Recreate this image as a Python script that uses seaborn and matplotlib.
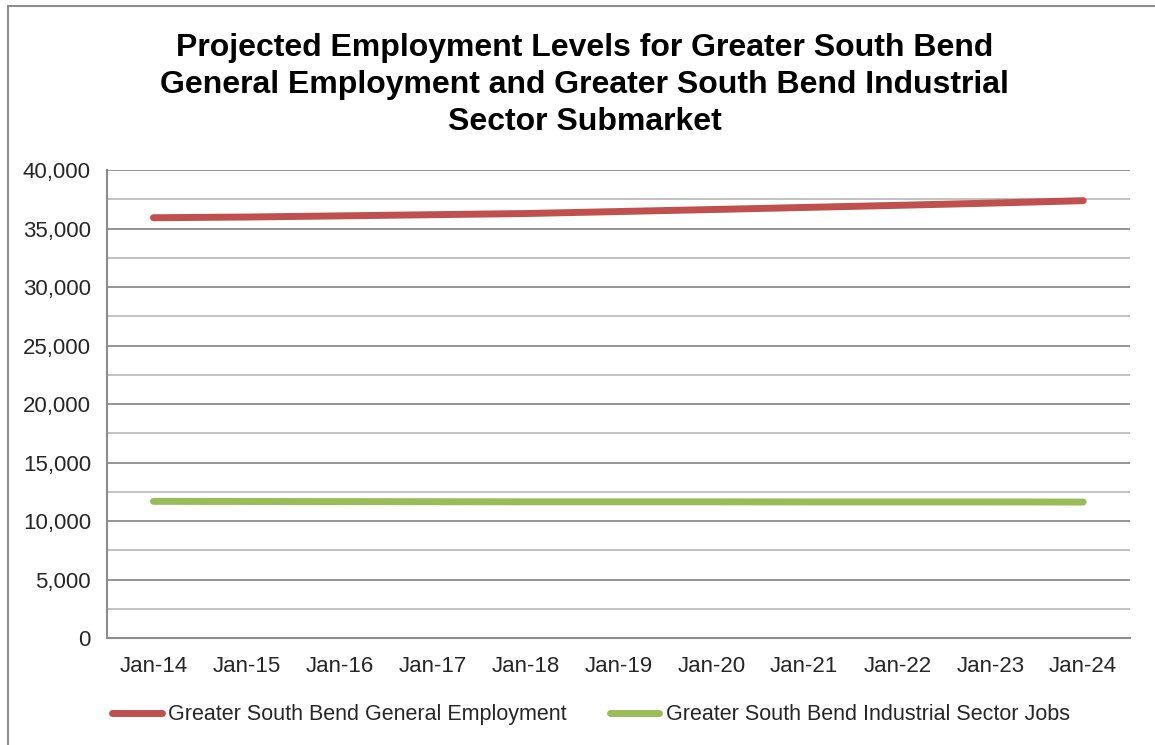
import numpy as np
import pandas as pd
import seaborn as sns
import matplotlib.pyplot as plt
from matplotlib.ticker import MultipleLocator, FuncFormatter
from matplotlib.patches import Rectangle

periods = ["Jan-14", "Jan-15", "Jan-16", "Jan-17", "Jan-18", "Jan-19",
           "Jan-20", "Jan-21", "Jan-22", "Jan-23", "Jan-24"]
general_emp = [35920, 35980, 36080, 36180, 36280, 36450,
               36620, 36800, 36980, 37170, 37380]
industrial_jobs = [11680, 11670, 11660, 11650, 11640, 11640,
                   11640, 11630, 11630, 11630, 11620]
series_names = ["Greater South Bend General Employment",
                "Greater South Bend Industrial Sector Jobs"]
title = ("Projected Employment Levels for Greater South Bend\n"
         "General Employment and Greater South Bend Industrial\n"
         "Sector Submarket")

df = pd.DataFrame({"period": periods,
                   series_names[0]: general_emp,
                   series_names[1]: industrial_jobs})
long = df.melt(id_vars="period", var_name="series", value_name="jobs")
long["pos"] = long["period"].map({p: i for i, p in enumerate(periods)})

sns.set_style("white")
plt.rcParams["font.family"] = ["Liberation Sans", "DejaVu Sans"]

fig = plt.figure(figsize=(11.55, 7.45), dpi=100)
ax = fig.add_axes([0.0926, 0.1436, 0.8855, 0.6282])

sns.lineplot(data=long, x="pos", y="jobs", hue="series",
             palette=["#c0504d", "#9bbb59"], linewidth=5,
             solid_capstyle="round", ax=ax, legend=True)

ax.set_xlim(-0.5, len(periods) - 0.5)
ax.set_ylim(0, 40000)
ax.yaxis.set_major_locator(MultipleLocator(5000))
ax.yaxis.set_minor_locator(MultipleLocator(2500))
ax.yaxis.set_major_formatter(FuncFormatter(lambda v, _: f"{int(v):,}"))
ax.grid(which="major", axis="y", color="#8c8c8c", linewidth=1.3)
ax.grid(which="minor", axis="y", color="#bcbcbc", linewidth=1.3)
ax.set_axisbelow(True)

ax.set_xticks(np.arange(len(periods)))
ax.set_xticklabels(periods)
ax.set_xticks(np.arange(len(periods) + 1) - 0.5, minor=True)
ax.tick_params(axis="x", which="major", length=0, labelsize=16, pad=13)
ax.tick_params(axis="x", which="minor", length=7, width=1.3, color="#8c8c8c",
               direction="out")
ax.tick_params(axis="y", which="major", length=6, width=1.3, color="#8c8c8c",
               direction="out", labelsize=16, pad=5.5)
ax.tick_params(axis="y", which="minor", length=0)
ax.set_xlabel("")
ax.set_ylabel("")

for side in ["top", "right"]:
    ax.spines[side].set_visible(False)
for side in ["left", "bottom"]:
    ax.spines[side].set_color("#8c8c8c")
    ax.spines[side].set_linewidth(1.5)

fig.text(0.506, 1 - 33 / 745, title, ha="center", va="top", fontsize=23,
         fontweight="bold", linespacing=1.3, color="black")

handles, labels = ax.get_legend_handles_labels()
ax.legend(handles, labels, loc="upper left", bbox_to_anchor=(-0.014, -0.1),
          ncol=2, frameon=False, fontsize=15.5, handlelength=2.3,
          handletextpad=0.3, columnspacing=2.0)

fig.patches.append(Rectangle((0.0065, -0.05), 1.1, 1.042,
                             transform=fig.transFigure, fill=False,
                             edgecolor="#8c8c8c", linewidth=1.5))

fig.savefig("out.png", dpi=100)
